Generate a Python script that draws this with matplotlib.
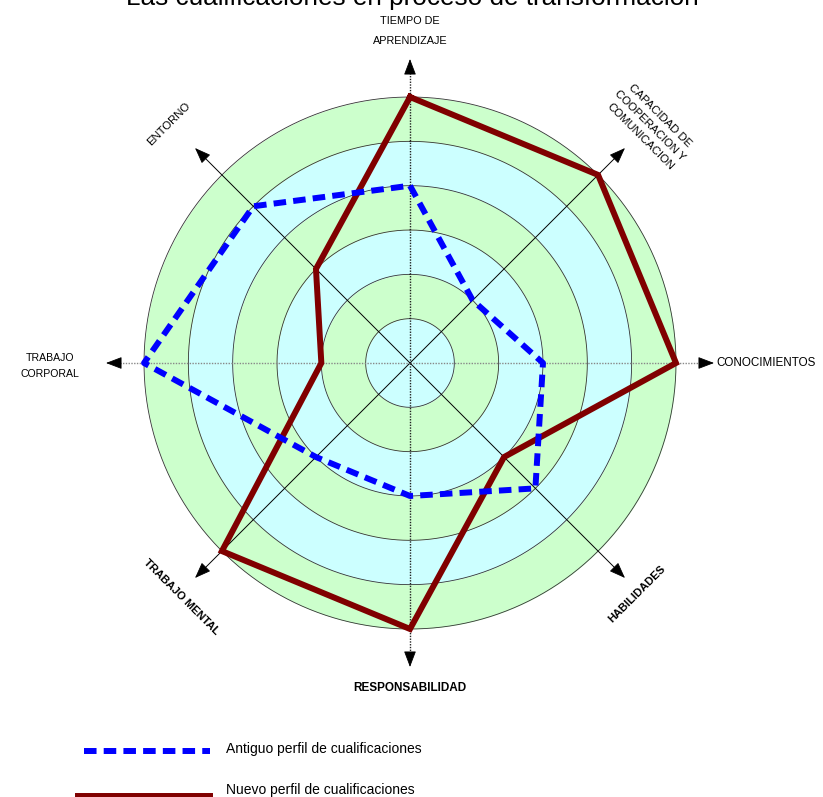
import numpy as np
import matplotlib
matplotlib.use("Agg")
import matplotlib.pyplot as plt
from matplotlib.lines import Line2D

plt.rcParams['font.family'] = ['Liberation Sans', 'DejaVu Sans']

# ---------------- data ----------------
categories = ["TIEMPO DE\nAPRENDIZAJE",
              "CAPACIDAD DE\nCOOPERACION Y\nCOMUNICACION",
              "CONOCIMIENTOS", "HABILIDADES", "RESPONSABILIDAD",
              "TRABAJO MENTAL", "TRABAJO\nCORPORAL", "ENTORNO"]
old_profile = [4, 2, 3, 4, 3, 3, 6, 5]
new_profile = [6, 6, 6, 3, 6, 6, 2, 3]
ring_levels = [1, 2, 3, 4, 5, 6]
series_names = ["Antiguo perfil de cualificaciones", "Nuevo perfil de cualificaciones"]
title = "Las cualificaciones en proceso de transformación"

# ---------------- layout ----------------
W, H = 823, 797
fig = plt.figure(figsize=(W / 100, H / 100), dpi=100)
cx, cy = 410, 363           # centre in pixels (from top)
px_per_unit = 44.33
R = 7.0
size = 2 * R * px_per_unit
ax = fig.add_axes([(cx - size / 2) / W, (H - cy - size / 2) / H, size / W, size / H],
                  projection='polar')
ax.set_theta_zero_location('N')
ax.set_theta_direction(-1)
ax.set_ylim(0, R)
ax.axis('off')

n = len(categories)
angles = np.arange(n) * 2 * np.pi / n

# ring fills
green, cyan = '#CCFFCC', '#CCFFFF'
th = np.linspace(0, 2 * np.pi, 400)
prev = 0
for i, lv in enumerate(ring_levels):
    col = cyan if i % 2 == 0 else green
    ax.fill_between(th, prev, lv, color=col, lw=0, zorder=1)
    ax.plot(th, np.full_like(th, lv), color='#333333', lw=0.6, zorder=2)
    prev = lv

# axes spokes
tip = 6.92
for k, a in enumerate(angles):
    if k % 2 == 0:
        col = '#222222' if k % 4 == 0 else '#888888'
        ax.plot([a, a], [0, tip - 0.15], color=col, lw=1.0, ls=(0, (1, 1)), zorder=3)
    else:
        ax.plot([a, a], [0, tip - 0.15], color='black', lw=0.7, zorder=3)
    ax.annotate('', xy=(a, tip), xytext=(a, tip - 0.3),
                arrowprops=dict(arrowstyle='-|>,head_length=1.0,head_width=0.38',
                                color='black', lw=0.6, mutation_scale=10),
                zorder=4, annotation_clip=False)

# data lines
ang_c = np.append(angles, angles[0])
old_c = np.append(old_profile, old_profile[0])
new_c = np.append(new_profile, new_profile[0])
ax.plot(ang_c, new_c, color='#800000', lw=4.3, zorder=5, solid_joinstyle='miter')
ax.plot(ang_c, old_c, color='#0000FF', lw=4.3, dashes=(2.1, 1.2), zorder=6,
        dash_capstyle='butt')

# ---------------- overlay for texts / legend ----------------
ov = fig.add_axes([0, 0, 1, 1], zorder=10)
ov.set_xlim(0, W)
ov.set_ylim(H, 0)
ov.axis('off')
ov.patch.set_alpha(0)

ov.text(412, 5, title, fontsize=18.8, ha='center', va='baseline')

lab_pos = [(410, 31, 0, 'normal', 'center', 7.8, 2.2),
           (650, 126, -45, 'normal', 'center', 8.2, 1.55),
           (716, 363, 0, 'normal', 'left', 8.4, 1.2),
           (637, 594, 45, 'bold', 'center', 8.0, 1.2),
           (410, 688, 0, 'bold', 'center', 8.5, 1.2),
           (181, 597, -45, 'bold', 'center', 8.0, 1.2),
           (50, 366, 0, 'normal', 'center', 7.6, 1.8),
           (169, 124, 45, 'normal', 'center', 8.2, 1.2)]
for lab, (x, y, rot, wt, ha, fs, ls) in zip(categories, lab_pos):
    ov.text(x, y, lab, rotation=rot, fontweight=wt, ha=ha, va='center',
            multialignment='center', fontsize=fs, linespacing=ls,
            rotation_mode='anchor')

# legend
ov.add_line(Line2D([84, 210], [751, 751], color='#0000FF', lw=4.3, dashes=(2.1, 1.2),
                   dash_capstyle='butt'))
ov.add_line(Line2D([78, 210], [796, 796], color='#800000', lw=4.3))
ov.text(226, 749, series_names[0], fontsize=10, va='center')
ov.text(226, 790, series_names[1], fontsize=10, va='center')

fig.savefig('out.png', dpi=100)
